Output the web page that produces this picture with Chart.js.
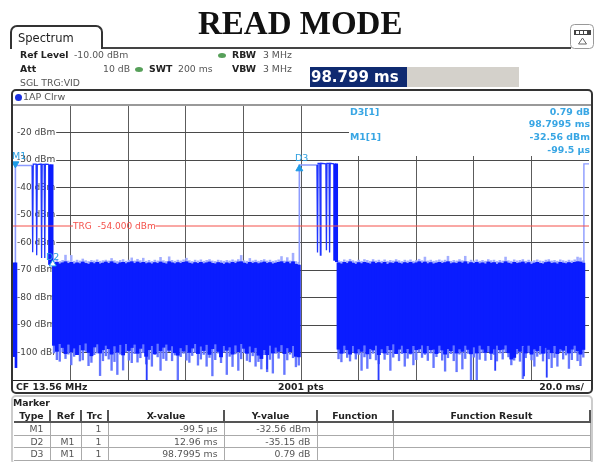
<!DOCTYPE html>
<html>
<head>
<meta charset="utf-8">
<title>READ MODE</title>
<script src="https://cdn.jsdelivr.net/npm/chart.js@4"></script>
<style>
  html, body { margin: 0; padding: 0; background: #fff; }
  #page { position: relative; width: 594px; height: 462px; overflow: hidden; font: 9.3px "DejaVu Sans", sans-serif; color: #555; }
  #page > canvas { position: absolute; left: 0; top: 0; }
  .t { position: absolute; white-space: pre; line-height: 12px; }
  .b { font-weight: bold; font-size: 9.3px; color: #222; }
  .box { position: absolute; box-sizing: border-box; }
  .cy { color: #38a6e4; font-weight: bold; font-size: 9.4px; }
  .dot { position: absolute; width: 8px; height: 5px; border-radius: 50%; background: #57a05a; }
  table { position: absolute; left: 14px; top: 410px; width: 576px; border-collapse: collapse; table-layout: fixed; font-size: 9.3px; color: #555; }
  th { height: 11px; padding: 0; font-weight: bold; font-size: 9.3px; color: #222; border-bottom: 2px solid #555; border-right: 2px solid #555; line-height: 11px; }
  td { height: 11.5px; padding: 0 6px 0 0; text-align: right; border-bottom: 1px solid #aaa; border-right: 1px solid #aaa; line-height: 11px; }
</style>
</head>
<body>
<div id="page">
  <canvas id="chart" width="594" height="462"></canvas>

  <div class="t" style="left:198px;top:4px;font:bold 33px/38px 'Liberation Serif',serif;color:#111">READ MODE</div>

  <div class="box" style="left:10px;top:25px;width:93px;height:24px;border:2px solid #333;border-bottom:none;border-radius:7px 7px 0 0;background:#fff"></div>
  <div class="box" style="left:103px;top:47px;width:468px;height:2px;background:#444"></div>
  <div class="t" style="left:18px;top:31px;font-size:11.5px;line-height:14px;color:#222">Spectrum</div>
  <svg class="box" style="left:570px;top:24px" width="24" height="25">
    <rect x="0.5" y="0.5" width="23" height="24" rx="4" fill="#fff" stroke="#999"/>
    <rect x="4" y="6" width="17" height="5" fill="#444"/>
    <rect x="6" y="7" width="3" height="3" fill="#fff"/><rect x="10" y="7" width="3" height="3" fill="#fff"/><rect x="14" y="7" width="3" height="3" fill="#fff"/>
    <path d="M12.5 14 L16.5 20 L8.5 20 Z" fill="#fff" stroke="#666"/>
  </svg>

  <div class="t b" style="left:20px;top:49px">Ref Level</div>
  <div class="t" style="left:74px;top:49px">-10.00 dBm</div>
  <div class="dot" style="left:218px;top:53px"></div>
  <div class="t b" style="left:232px;top:49px">RBW</div>
  <div class="t" style="left:263px;top:49px">3 MHz</div>
  <div class="t b" style="left:20px;top:63px">Att</div>
  <div class="t" style="left:103px;top:63px">10 dB</div>
  <div class="dot" style="left:135px;top:67px"></div>
  <div class="t b" style="left:149px;top:63px">SWT</div>
  <div class="t" style="left:178px;top:63px">200 ms</div>
  <div class="t b" style="left:232px;top:63px">VBW</div>
  <div class="t" style="left:263px;top:63px">3 MHz</div>
  <div class="t" style="left:20px;top:77px">SGL TRG:VID</div>

  <div class="box" style="left:310px;top:67px;width:209px;height:20px;background:#d4d1cb"></div>
  <div class="box" style="left:310px;top:67px;width:97px;height:20px;background:#0f2a70"></div>
  <div class="t" style="left:311px;top:67px;font:bold 15px/20px 'DejaVu Sans',sans-serif;color:#fff">98.799 ms</div>

  <div class="box" style="left:11px;top:89px;width:582px;height:305px;border:2px solid #333;border-radius:5px"></div>
  <div class="box" style="left:13px;top:104px;width:578px;height:2px;background:#999"></div>
  <div class="box" style="left:13px;top:380px;width:578px;height:1px;background:#222"></div>
  <div class="box" style="left:15px;top:94px;width:7px;height:7px;border-radius:50%;background:#1a2fe0"></div>
  <div class="t" style="left:23px;top:91px;font-size:9.5px">1AP Clrw</div>

  <div class="box" style="left:349px;top:106px;width:242px;height:50px;background:#fff"></div>
  <div class="t cy" style="left:350px;top:106px">D3[1]</div>
  <div class="t cy" style="right:4px;top:106px">0.79 dB</div>
  <div class="t cy" style="right:4px;top:118px">98.7995 ms</div>
  <div class="t cy" style="left:350px;top:131px">M1[1]</div>
  <div class="t cy" style="right:4px;top:131px">-32.56 dBm</div>
  <div class="t cy" style="right:4px;top:144px">-99.5 µs</div>

  <div class="t" style="left:12px;top:150px;font-size:9.5px;color:#2b9fe0">M1</div>
  <div class="t" style="left:46px;top:251px;font-size:9.5px;color:#2b9fe0">D2</div>
  <div class="t" style="left:295px;top:152px;font-size:9.5px;color:#2b9fe0">D3</div>
  <div class="t" style="left:73px;top:220px;font-size:9px;color:#f4504a">TRG  -54.000 dBm</div>

  <div class="t b" style="left:16px;top:381px">CF 13.56 MHz</div>
  <div class="t b" style="left:278px;top:381px">2001 pts</div>
  <div class="t b" style="right:10px;top:381px">20.0 ms/</div>

  <div class="box" style="left:11px;top:395px;width:582px;height:70px;border:2px solid #ccc;border-radius:5px"></div>
  <div class="t b" style="left:13px;top:397px">Marker</div>
  <table>
    <colgroup><col style="width:36px"><col style="width:31px"><col style="width:27px"><col style="width:116px"><col style="width:93px"><col style="width:76px"><col style="width:197px"></colgroup>
    <tr><th>Type</th><th>Ref</th><th>Trc</th><th>X-value</th><th>Y-value</th><th>Function</th><th>Function Result</th></tr>
    <tr><td>M1</td><td></td><td>1</td><td>-99.5 µs</td><td>-32.56 dBm</td><td></td><td></td></tr>
    <tr><td>D2</td><td>M1</td><td>1</td><td>12.96 ms</td><td>-35.15 dB</td><td></td><td></td></tr>
    <tr><td>D3</td><td>M1</td><td>1</td><td>98.7995 ms</td><td>0.79 dB</td><td></td><td></td></tr>
  </table>
</div>

<script>
// axis, ms and dBm
var xMin = -0.83, xMax = 199.17;
var xGrid = [19.17, 39.17, 59.17, 79.17, 99.17, 119.17, 139.17, 159.17, 179.17];
var yGrid = [-20, -30, -40, -50, -60, -70, -80, -90, -100];

// noise floor, one value per ms, first sweep block starts at 13.4 ms, second at 112.2 ms
var startA = 13.4, startB = 112.2;
var coreTopA = [-67.6,-67.2,-67.8,-67.4,-67.0,-67.6,-67.2,-67.8,-67.4,-67.7,-67.1,-67.6,-67.9,-67.3,-67.7,-67.2,-67.8,-67.5,-67.1,-67.6,-67.0,-67.5,-67.9,-67.4,-67.2,-67.7,-67.3,-67.0,-67.6,-67.1,-67.5,-67.2,-67.7,-67.4,-67.8,-67.3,-67.6,-67.1,-67.5,-67.8,-67.0,-67.4,-67.7,-67.3,-67.6,-67.2,-67.0,-67.5,-67.8,-67.3,-67.6,-67.2,-67.7,-67.4,-67.1,-67.6,-67.8,-67.3,-67.5,-67.9,-67.4,-67.7,-67.2,-67.6,-67.1,-67.0,-67.5,-67.8,-67.2,-67.6,-67.3,-67.7,-67.4,-67.1,-67.6,-67.3,-67.8,-67.5,-67.2,-67.0,-67.6,-67.1,-67.7,-67.0,-67.9,-68.2];
var peakTopA = [-66.6,-66.2,-66.9,-66.5,-64.6,-66.7,-64.7,-66.8,-66.4,-66.7,-66.0,-66.6,-66.9,-66.5,-66.7,-66.3,-66.8,-66.6,-66.4,-66.7,-65.8,-66.6,-66.9,-66.5,-66.2,-66.8,-66.4,-65.6,-66.7,-66.1,-66.6,-65.7,-66.8,-66.5,-66.9,-66.4,-66.7,-65.4,-66.6,-66.9,-65.2,-66.5,-66.8,-66.4,-66.7,-66.3,-65.7,-66.6,-66.9,-66.4,-66.7,-66.3,-66.8,-66.5,-66.2,-66.7,-66.9,-66.4,-66.6,-66.8,-66.5,-66.7,-66.3,-66.7,-66.2,-64.7,-66.6,-66.8,-65.8,-66.7,-66.4,-66.8,-66.5,-66.2,-66.7,-66.4,-66.8,-66.6,-66.3,-65.1,-66.7,-65.5,-66.7,-63.9,-66.9,-67.2];
var coreBotA = [-97.4,-99.6,-96.8,-98.2,-100.4,-97.0,-99.8,-98.4,-100.8,-97.2,-99.1,-96.6,-100.0,-101.2,-98.0,-96.9,-100.2,-99.0,-97.4,-98.6,-100.6,-97.6,-99.9,-97.1,-100.9,-96.8,-99.3,-98.2,-97.0,-100.3,-98.5,-96.9,-101.4,-99.0,-97.5,-100.5,-96.7,-99.4,-98.1,-97.0,-99.2,-97.6,-100.1,-101.0,-98.3,-99.5,-97.2,-100.0,-98.4,-96.8,-100.4,-97.7,-99.3,-97.1,-100.7,-98.6,-96.9,-99.6,-101.6,-97.5,-99.2,-98.0,-100.6,-97.3,-99.7,-96.8,-98.5,-100.3,-97.7,-99.8,-98.2,-101.0,-102.2,-99.0,-100.8,-97.4,-100.2,-98.1,-99.6,-97.2,-100.4,-98.3,-99.7,-97.5,-101.4,-101.6];
var peakBotA = [-100.2,-102.6,-103.2,-99.8,-102.2,-100.6,-104.5,-101.4,-100.0,-103.1,-102.7,-99.6,-104.8,-103.6,-100.8,-100.2,-108.4,-103.0,-101.2,-102.4,-106.5,-103.3,-108.0,-100.6,-106.4,-99.9,-102.8,-103.7,-100.4,-103.5,-101.9,-100.1,-104.2,-102.5,-105.0,-100.7,-101.6,-106.5,-102.2,-102.9,-99.7,-103.0,-100.9,-110.0,-101.5,-100.3,-102.8,-103.6,-101.1,-100.0,-104.6,-102.4,-100.7,-105.0,-101.8,-108.5,-102.6,-100.2,-103.7,-99.9,-108.0,-101.4,-105.1,-100.5,-106.5,-102.3,-100.1,-102.9,-103.4,-101.2,-105.0,-103.3,-106.0,-100.8,-107.0,-102.5,-107.5,-100.3,-102.1,-99.8,-108.0,-102.7,-100.6,-101.9,-105.2,-104.6];
var coreTopB = [-67.4,-67.8,-67.2,-67.6,-67.0,-67.5,-67.9,-67.3,-67.7,-67.2,-67.5,-67.8,-67.1,-67.6,-67.3,-67.7,-67.2,-67.9,-67.4,-67.6,-67.1,-67.5,-67.8,-67.3,-67.6,-67.2,-67.7,-67.4,-67.0,-67.5,-67.1,-67.7,-67.3,-67.8,-67.5,-67.2,-67.6,-67.3,-67.0,-67.7,-67.4,-67.6,-67.1,-67.5,-67.0,-67.8,-67.3,-67.6,-67.2,-67.7,-67.4,-67.8,-67.1,-67.5,-67.3,-67.9,-67.4,-67.6,-67.0,-67.5,-67.8,-67.2,-67.6,-67.4,-67.1,-67.7,-67.3,-67.9,-67.5,-67.2,-67.6,-67.8,-67.3,-67.1,-67.6,-67.4,-67.8,-67.2,-67.5,-67.7,-67.3,-67.6,-67.2,-67.0,-67.1,-67.5];
var peakTopB = [-66.6,-66.9,-66.3,-66.7,-66.1,-66.6,-66.9,-66.4,-66.8,-66.2,-66.5,-66.8,-66.2,-66.7,-66.4,-66.8,-66.3,-66.8,-66.5,-66.7,-66.2,-66.6,-66.9,-66.4,-66.7,-66.3,-66.8,-66.5,-66.1,-66.6,-65.3,-66.7,-66.4,-66.8,-66.6,-66.3,-66.7,-66.4,-65.0,-66.8,-66.5,-66.7,-66.2,-66.6,-65.0,-66.9,-66.4,-66.7,-66.3,-66.8,-66.5,-66.8,-66.2,-66.6,-66.4,-66.9,-66.5,-66.7,-65.3,-66.6,-66.8,-66.3,-66.7,-66.5,-66.2,-66.8,-66.4,-66.9,-66.6,-66.3,-66.7,-66.8,-66.4,-66.2,-66.7,-66.5,-66.8,-66.3,-66.6,-66.8,-66.4,-66.7,-66.3,-65.3,-65.6,-66.6];
var coreBotB = [-98.8,-100.3,-97.4,-99.0,-100.6,-97.5,-100.2,-98.7,-99.6,-97.3,-100.5,-98.6,-99.1,-97.4,-100.8,-98.7,-100.2,-97.5,-99.0,-96.9,-100.4,-98.8,-97.4,-100.1,-98.6,-100.3,-97.5,-99.0,-98.7,-97.3,-100.2,-97.5,-99.0,-98.8,-100.4,-97.4,-99.1,-100.6,-98.6,-99.4,-97.3,-100.2,-98.7,-99.6,-97.4,-98.9,-100.5,-98.0,-100.2,-97.4,-98.8,-100.0,-97.5,-100.3,-98.7,-97.4,-99.0,-98.8,-97.3,-100.1,-102.4,-101.8,-98.6,-99.6,-97.5,-100.2,-97.4,-100.6,-98.7,-99.4,-97.5,-100.3,-98.2,-98.9,-100.1,-97.5,-100.4,-98.7,-99.2,-97.5,-100.2,-98.8,-97.4,-99.4,-100.6,-98.9];
var peakBotB = [-102.3,-103.4,-100.2,-101.8,-103.1,-99.9,-102.4,-100.7,-106.5,-101.6,-105.8,-102.3,-100.3,-102.7,-104.1,-100.0,-102.5,-100.8,-106.5,-101.7,-99.8,-103.0,-100.4,-105.0,-102.1,-100.6,-104.5,-102.6,-99.9,-101.8,-100.7,-102.9,-100.2,-105.5,-101.5,-100.1,-102.8,-106.8,-101.9,-100.4,-103.0,-107.0,-100.6,-106.0,-102.2,-100.3,-110.0,-101.7,-110.0,-102.5,-100.1,-102.9,-99.8,-102.6,-100.7,-103.1,-100.2,-102.4,-99.9,-101.6,-104.5,-102.8,-100.5,-103.2,-109.5,-101.9,-100.0,-102.7,-105.0,-101.4,-100.6,-103.1,-100.2,-102.3,-105.5,-101.8,-105.0,-99.8,-102.4,-100.9,-105.8,-102.6,-100.1,-103.0,-104.8,-101.7];

// darker single spikes below the floor
var spikeT = [45.6, 87.4, 126.1, 166.6, 176.6, 184.5];
var spikeLow = [-110.0, -106.0, -110.0, -106.5, -108.5, -109.0];

// bursts, the thin verticals ahead of each noise block
var burstAT = [5.8, 6.0, 6.2, 7.2, 7.4, 7.6, 8.9, 9.1, 9.3, 10.0, 10.2, 10.4, 11.6];
var burstAY = [-32.0, -63.5, -31.5, -31.5, -64.6, -31.7, -31.5, -65.6, -31.5, -31.6, -65.6, -31.5, -31.6];
var burstBT = [104.7, 104.9, 105.1, 105.7, 105.9, 106.1, 107.8, 108.0, 108.2, 108.9, 109.1, 109.3, 110.6];
var burstBY = [-31.8, -63.6, -31.2, -31.2, -64.6, -31.2, -31.4, -62.8, -31.2, -31.2, -63.6, -31.2, -31.4];
var blockT = [11.9, 12.7, 110.9, 111.5];
var blockLow = [-68.0, -68.2, -66.5, -67.0];
var blockHigh = [-31.7, -31.7, -31.4, -31.4];

// the lighter trace legs at M1, D3 and the sweep end
var leadAT = [0.0, 0.0, 5.8];
var leadAY = [-67.5, -32.0, -32.0];
var leadBT = [98.6, 98.6, 104.7];
var leadBY = [-67.5, -31.8, -31.8];
var leadCT = [197.4, 197.4, 199.17];
var leadCY = [-67.5, -31.4, -31.4];

// the short block left of M1
var stripT = [-0.4, 0.2];
var stripLow = [-101.5, -105.5];
var stripHigh = [-67.4, -67.4];

// trigger level, broken where its label sits
var trgT = [-0.83, 20.0, 20.0, 48.6, 48.6, 199.17];
var trgY = [-54, -54, null, null, -54, -54];

// markers
var markerT = [0.0, 12.96, 98.6];
var markerY = [-31.4, -67.8, -33.2];
var markerFill = ['#1e9be6', '#ffffff', '#1e9be6'];
var markerRot = [180, 0, 0];

function pts(ts, ys) {
  return ts.map(function (t, i) { return { x: t, y: ys[i] }; });
}
function bars(start, lows, highs) {
  return lows.map(function (lo, i) { return { x: start + i, y: [lo, highs[i]] }; });
}
function traceLine(ts, ys, color, width) {
  return { type: 'line', data: pts(ts, ys), borderColor: color, borderWidth: width, pointRadius: 0, tension: 0, spanGaps: false };
}
function barSet(data, color, thick) {
  return { type: 'bar', data: data, backgroundColor: color, barThickness: thick, grouped: false, borderWidth: 0 };
}

new Chart('chart', {
  type: 'bar',
  data: {
    datasets: [
      {
        type: 'line', data: pts(markerT, markerY), showLine: false, pointStyle: 'triangle',
        pointRadius: 4, pointRotation: markerRot, pointBackgroundColor: markerFill,
        pointBorderColor: '#1e9be6', pointBorderWidth: 1
      },
      traceLine(trgT, trgY, '#f4504a', 1),
      barSet(bars(startA, coreBotA, coreTopA), '#0a1cff', 3.2),
      barSet(bars(startB, coreBotB, coreTopB), '#0a1cff', 3.2),
      barSet(stripT.map(function (t, i) { return { x: t, y: [stripLow[i], stripHigh[i]] }; }), '#0a1cff', 2),
      barSet(blockT.map(function (t, i) { return { x: t, y: [blockLow[i], blockHigh[i]] }; }), '#0a1cff', 2.4),
      traceLine(burstAT, burstAY, '#1f35ff', 1.3),
      traceLine(burstBT, burstBY, '#1f35ff', 1.3),
      traceLine(leadAT, leadAY, '#8c9bff', 1.6),
      traceLine(leadBT, leadBY, '#8c9bff', 1.6),
      traceLine(leadCT, leadCY, '#8c9bff', 1.4),
      barSet(spikeT.map(function (t, i) { return { x: t, y: [spikeLow[i], -98] }; }), '#2a3dff', 1.2),
      barSet(bars(startA, peakBotA, coreTopA), '#6576ff', 1.7),
      barSet(bars(startB, peakBotB, coreTopB), '#6576ff', 1.7),
      barSet(bars(startA, coreBotA, peakTopA), '#a3aeff', 1.9),
      barSet(bars(startB, coreBotB, peakTopB), '#a3aeff', 1.9)
    ]
  },
  options: {
    responsive: false,
    animation: false,
    events: [],
    layout: { padding: { left: 13, right: 3, top: 105, bottom: 82 } },
    plugins: { legend: { display: false }, tooltip: { enabled: false } },
    scales: {
      x: {
        type: 'linear', min: xMin, max: xMax, offset: false,
        afterBuildTicks: function (axis) { axis.ticks = xGrid.map(function (v) { return { value: v }; }); },
        grid: { color: '#5c5c5c', lineWidth: 1, offset: false, drawTicks: false },
        border: { display: false },
        ticks: { display: false }
      },
      y: {
        min: -110, max: -10,
        afterBuildTicks: function (axis) { axis.ticks = yGrid.map(function (v) { return { value: v }; }); },
        afterFit: function (axis) { axis.width = 0; },
        grid: { color: '#4a4a4a', lineWidth: 1, drawTicks: false },
        border: { display: false },
        ticks: {
          mirror: true, padding: 4, color: '#444',
          font: { family: 'DejaVu Sans', size: 9 },
          showLabelBackdrop: true, backdropColor: '#fff',
          backdropPadding: { left: 5, right: 1, top: 0, bottom: 0 },
          callback: function (v) { return v + ' dBm'; }
        }
      }
    }
  }
});
</script>
</body>
</html>
